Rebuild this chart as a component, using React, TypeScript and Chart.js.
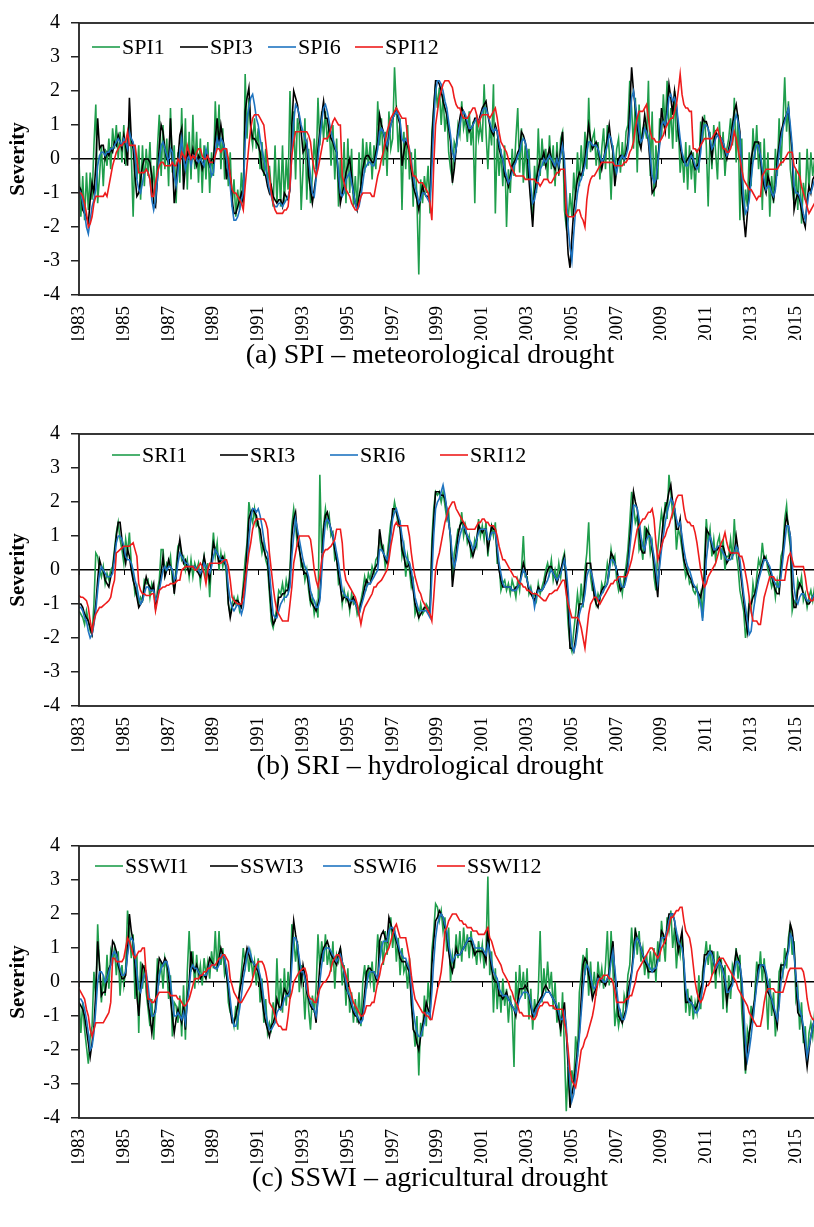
import React, { useEffect, useRef } from "react";
import { Chart, registerables } from "chart.js";

Chart.register(...registerables);

const FONT = "'Liberation Serif', 'Times New Roman', serif";
const START_YEAR = 1983;
const TICK_YEARS = [1983, 1985, 1987, 1989, 1991, 1993, 1995, 1997, 1999, 2001, 2003, 2005, 2007, 2009, 2011, 2013, 2015];
const Y_TICKS = [-4, -3, -2, -1, 0, 1, 2, 3, 4];
const COLORS = ["#1f9e4c", "#000000", "#1f74c0", "#ee1c1c"];

// ---------- (a) SPI: monthly values Jan 1983 - Dec 2015 ----------
const SPI_LABELS = ["SPI1", "SPI3", "SPI6", "SPI12"];
const SPI1 = [
  0.0,-1.7,-0.5,-1.8,-0.4,-1.5,-0.4,-1.2,0.4,1.6,-1.3,-0.5,
  0.4,-0.8,0.3,-0.2,0.6,-0.3,0.9,0.3,1.0,0.0,0.8,-0.1,
  1.0,-0.2,0.6,1.2,0.2,-1.7,0.4,-0.6,0.4,-1.2,0.4,-0.8,
  0.3,-0.5,0.5,-1.0,-0.2,-1.3,0.3,1.3,-0.5,1.0,-0.3,0.6,
  -0.8,1.5,-0.4,0.4,-1.3,0.2,-0.7,1.5,-0.5,1.2,-0.9,0.8,
  -0.6,1.3,-0.3,0.8,-0.7,0.6,-1.0,0.4,-0.6,0.5,-1.0,0.2,
  -0.5,1.7,0.3,1.6,-0.3,0.9,-0.6,0.3,-0.8,0.2,-1.4,-0.6,
  -1.7,-0.9,-1.5,-0.4,-1.2,2.5,0.6,1.8,0.8,0.4,1.2,0.3,
  0.9,-0.3,0.5,-0.5,0.3,-0.7,-0.2,-0.9,-1.4,0.4,-1.3,0.0,
  -1.4,0.4,-1.3,0.0,-0.9,2.0,0.2,1.4,-0.6,1.2,0.8,-1.5,
  -0.3,1.2,-1.2,0.3,-1.3,-0.5,0.6,-0.3,1.8,0.4,1.4,0.6,
  1.4,0.5,1.0,-0.2,1.0,-0.6,0.6,-1.4,0.0,-1.1,0.5,-1.3,
  0.6,-1.0,0.3,-1.4,-0.5,-1.5,0.2,-1.0,0.6,-0.4,0.5,-0.2,
  0.5,-0.6,0.4,-0.3,1.7,0.4,1.2,-0.2,0.8,-0.5,1.4,0.3,
  0.6,2.7,1.5,0.2,1.2,-1.5,0.8,-0.3,1.0,-0.6,0.2,-1.4,
  0.3,-1.2,-3.4,-0.6,-1.3,-0.5,-1.0,-0.2,-1.6,0.8,1.5,2.2,
  1.5,2.1,1.0,1.9,0.8,1.4,0.2,-0.3,-0.6,0.5,0.3,1.0,
  0.7,1.7,0.9,1.2,0.5,1.4,0.4,1.1,-1.3,1.3,0.6,1.0,
  0.5,2.2,0.8,-0.3,1.0,0.4,2.2,-1.6,0.6,-0.5,0.3,-0.8,
  0.4,-2.0,-0.3,-1.0,0.3,-0.5,0.6,1.5,-0.4,0.9,-0.7,0.4,
  -0.6,0.3,-1.2,-1.8,-0.2,-1.0,0.9,-0.5,0.6,-0.2,0.3,-0.6,
  0.7,-0.3,0.4,-0.8,0.5,-0.5,0.6,0.8,-1.5,-2.0,-1.8,-1.0,
  -1.7,-0.4,-1.2,0.2,-0.8,0.4,-0.5,0.8,-0.3,1.8,0.2,0.6,
  0.8,-0.2,0.5,-0.6,0.3,0.9,-0.3,1.0,0.2,-1.2,0.4,-0.5,
  0.3,0.6,-0.4,0.5,-0.2,0.8,1.0,2.3,1.5,0.3,1.8,-0.4,
  1.6,0.4,0.9,1.0,0.6,2.3,-0.5,1.4,-1.1,0.4,-0.6,1.2,
  0.6,1.9,0.9,2.3,0.6,1.5,0.3,2.0,0.5,1.0,-0.4,0.2,
  -0.7,0.5,-0.9,0.4,-0.6,0.2,-1.0,0.3,-0.4,1.1,0.5,1.3,
  0.4,-1.4,0.8,-0.3,1.0,0.2,-0.6,1.1,0.0,0.8,-0.5,0.3,
  0.6,1.2,0.4,1.8,-0.1,1.3,-1.8,0.6,-1.8,-0.9,-1.4,0.2,
  -0.8,0.9,0.0,1.0,-0.3,0.5,-1.5,0.6,-1.0,0.2,-1.7,-0.5,
  -1.3,0.3,-0.5,1.2,-0.2,1.0,2.4,0.8,1.7,-0.3,-0.8,-1.3,
  -0.3,-1.5,0.2,-1.9,-0.7,-1.2,0.3,-0.9,0.2,-0.5,0.0,-0.3,
];
const SPI3 = [
  -0.8,-0.9,-1.5,-1.6,-1.7,-1.9,-1.2,-0.7,-1.0,-0.2,1.2,0.3,
  0.4,0.4,0.0,0.2,0.1,0.3,0.2,0.5,0.4,0.7,0.5,0.3,
  0.7,0.4,-0.2,1.8,0.6,0.3,-0.5,-1.1,-1.0,-0.6,-0.2,0.0,
  0.0,0.0,-0.1,-0.5,-1.3,-1.4,-0.6,0.4,1.0,0.8,0.3,0.0,
  -0.1,1.2,0.0,-1.3,-0.8,0.0,0.7,0.9,-0.9,-0.2,0.2,0.0,
  0.0,0.3,0.0,-0.2,0.1,0.0,-0.3,-0.1,0.2,0.0,-0.2,0.0,
  0.0,0.6,1.2,0.5,1.0,0.6,0.3,-0.6,-0.1,-0.5,-1.2,-1.6,
  -1.6,-1.4,-1.2,-1.0,-1.3,1.4,1.8,2.1,1.0,0.6,0.6,0.5,
  0.4,0.2,-0.3,-0.4,-0.5,-0.8,-1.0,-0.8,-1.1,-1.2,-1.3,-1.2,
  -1.2,-1.4,-1.0,-1.1,-1.2,-0.9,1.0,2.0,1.8,1.6,1.2,0.8,
  0.2,0.3,0.5,-0.5,-0.9,-1.3,-0.9,-0.5,0.3,0.8,1.3,1.7,
  1.2,1.2,0.8,0.6,0.5,0.3,0.2,-0.6,-1.3,-1.0,-0.8,-0.4,
  -0.2,0.0,-0.5,-1.0,-1.3,-1.5,-1.1,-0.8,-0.3,0.0,0.1,0.1,
  0.0,-0.1,-0.1,0.2,0.5,1.3,1.0,0.8,0.5,0.3,0.7,1.0,
  1.2,1.3,1.5,1.2,1.0,-0.2,0.2,0.5,0.4,0.2,-0.3,-0.8,
  -1.0,-1.2,-1.5,-1.1,-0.8,-1.0,-1.1,-1.1,-1.2,0.5,1.5,2.3,
  2.3,2.2,2.0,1.7,1.5,1.3,0.9,0.5,-0.7,-0.3,0.3,0.8,
  1.2,1.5,1.4,1.2,1.0,0.8,0.9,1.0,1.2,1.2,1.1,1.3,
  1.5,1.6,1.7,1.3,1.0,0.8,0.7,1.0,0.8,0.3,0.1,0.0,
  -0.5,-0.6,-0.8,-0.5,-0.2,-0.1,0.0,0.2,0.3,0.8,0.7,0.5,
  0.2,-0.6,-1.3,-2.0,-1.0,-0.6,-0.3,0.0,0.0,0.2,-0.2,0.1,
  0.3,0.0,-0.2,-0.3,0.1,-0.3,0.3,0.8,-0.5,-1.8,-2.8,-3.2,
  -2.3,-1.5,-1.0,-0.6,-0.4,-0.5,-0.3,0.0,0.5,1.0,0.6,0.3,
  0.4,0.5,0.3,0.0,-0.3,0.0,0.3,0.6,1.0,0.5,0.2,-0.8,
  -0.3,0.0,0.1,0.1,0.0,0.2,0.5,1.5,2.7,2.0,1.5,1.0,
  0.5,0.3,0.8,1.3,0.9,0.5,-0.2,-1.0,-0.9,-0.8,0.0,0.5,
  1.5,1.1,0.8,1.5,2.2,1.8,1.3,2.0,1.6,0.8,0.4,0.0,
  -0.1,-0.1,0.0,0.1,0.2,-0.1,-0.3,-0.2,-0.1,0.5,1.2,1.1,
  1.1,0.9,0.5,0.0,0.5,0.8,0.7,0.7,0.6,0.5,0.2,0.0,
  0.3,0.6,1.0,1.4,1.6,1.2,0.8,-1.0,-1.7,-2.3,-1.6,-1.0,
  0.0,0.3,0.5,0.5,0.5,0.0,-0.5,-0.8,-1.0,-0.5,-0.7,-1.0,
  -1.2,-0.8,0.0,0.4,0.8,1.0,1.2,1.3,1.5,0.8,0.2,-1.5,
  -1.2,-1.0,-1.2,-1.5,-1.8,-2.0,-1.2,-0.8,-1.0,-0.6,-0.5,-0.4,
];
const SPI6 = [
  -0.9,-1.0,-1.3,-1.6,-2.0,-2.2,-1.8,-1.4,-1.2,-0.9,-0.2,0.1,
  0.2,0.2,0.1,0.2,0.2,0.3,0.3,0.4,0.5,0.6,0.5,0.4,
  0.6,0.5,0.3,0.8,0.6,0.5,0.1,-0.6,-0.9,-1.0,-0.7,-0.4,
  -0.3,-0.4,-0.6,-1.2,-1.5,-1.2,-0.6,0.0,0.4,0.5,0.3,0.1,
  -0.1,0.3,0.2,-0.5,-0.8,-0.4,0.2,0.6,0.0,-0.3,0.0,0.1,
  -0.2,0.1,0.1,0.0,-0.1,0.0,-0.1,-0.2,0.3,0.1,-0.1,-0.5,
  -0.4,0.2,0.6,0.4,0.6,0.5,0.3,0.0,-0.4,-0.8,-1.4,-1.8,
  -1.8,-1.7,-1.5,-1.2,-1.0,0.5,1.2,1.5,1.8,1.9,1.6,1.2,
  1.0,0.6,0.3,0.0,-0.3,-0.6,-0.9,-1.1,-1.3,-1.4,-1.4,-1.3,
  -1.3,-1.4,-1.3,-1.2,-1.1,-0.9,0.2,1.1,1.6,1.5,1.3,1.0,
  0.8,0.6,0.5,0.0,-0.5,-1.0,-1.1,-0.6,0.0,0.6,1.1,1.5,
  1.6,1.4,1.1,0.8,0.6,0.4,0.2,-0.4,-1.0,-1.1,-1.0,-0.6,
  -0.5,-0.4,-0.7,-1.0,-1.3,-1.5,-1.4,-1.1,-0.7,-0.3,-0.2,-0.1,
  -0.1,-0.2,-0.2,0.0,0.3,0.8,0.9,0.8,0.6,0.4,0.6,1.0,
  1.2,1.3,1.4,1.3,1.1,0.6,0.5,0.6,0.5,0.3,-0.1,-0.5,
  -0.8,-1.0,-1.3,-1.2,-1.0,-1.0,-1.1,-1.2,-1.3,-0.3,1.0,2.0,
  2.3,2.3,2.2,2.0,1.7,1.5,1.1,0.7,0.2,0.0,0.3,0.7,
  1.0,1.3,1.4,1.3,1.1,0.9,0.9,1.0,1.1,1.2,1.1,1.2,
  1.4,1.5,1.5,1.3,1.1,0.9,0.8,0.9,0.8,0.5,0.2,0.0,
  -0.3,-0.5,-0.7,-0.6,-0.4,-0.2,-0.1,0.1,0.2,0.5,0.6,0.5,
  0.2,-0.2,-0.8,-1.3,-1.2,-0.9,-0.6,-0.3,-0.2,0.0,-0.1,0.0,
  0.1,0.0,-0.1,-0.2,0.0,-0.2,0.1,0.4,0.0,-1.0,-2.0,-2.6,
  -3.0,-2.2,-1.5,-1.0,-0.7,-0.6,-0.4,-0.2,0.2,0.5,0.5,0.4,
  0.4,0.4,0.3,0.1,-0.1,0.0,0.2,0.4,0.7,0.6,0.3,-0.2,
  -0.4,-0.1,0.0,0.1,0.0,0.1,0.3,0.9,1.8,2.0,1.6,1.2,
  0.8,0.5,0.6,0.9,0.8,0.6,0.1,-0.5,-0.7,-0.6,-0.1,0.4,
  1.0,1.1,1.0,1.3,1.8,1.9,1.7,1.8,1.6,1.1,0.6,0.2,
  0.0,-0.2,-0.2,0.0,0.1,0.0,-0.2,-0.3,-0.2,0.2,0.8,1.0,
  1.0,0.9,0.6,0.3,0.4,0.6,0.7,0.6,0.6,0.5,0.3,0.1,
  0.2,0.4,0.8,1.1,1.3,1.1,0.7,-0.4,-1.2,-1.6,-1.5,-1.2,
  -0.6,-0.1,0.2,0.4,0.4,0.1,-0.3,-0.6,-0.9,-0.8,-0.8,-1.0,
  -1.1,-0.9,-0.3,0.2,0.6,0.9,1.1,1.3,1.5,1.0,0.4,-0.8,
  -1.0,-1.0,-1.1,-1.3,-1.6,-1.8,-1.4,-1.0,-1.0,-0.8,-0.6,-0.5,
];
const SPI12 = [
  -1.0,-1.0,-1.1,-1.3,-1.6,-2.0,-1.9,-1.7,-1.3,-1.1,-1.1,-1.1,
  -1.1,-1.1,-1.0,-1.1,-0.8,-0.5,-0.2,0.0,0.2,0.3,0.4,0.4,
  0.5,0.5,0.8,0.4,0.4,0.4,0.4,0.0,-0.4,-0.4,-0.4,-0.4,
  -0.3,-0.4,-0.6,-1.1,-1.1,-0.7,-0.4,-0.2,-0.1,-0.1,-0.2,-0.2,
  -0.2,-0.2,-0.1,-0.2,-0.2,0.0,-0.1,0.2,0.1,0.0,0.4,0.2,
  0.0,0.1,0.0,0.2,0.3,0.3,0.1,0.0,0.0,0.1,-0.1,-0.1,
  -0.1,0.1,0.3,0.3,0.2,0.3,0.3,0.3,0.0,-0.5,-0.9,-1.0,
  -1.0,-1.1,-1.2,-1.3,-1.5,-0.8,-0.2,0.4,0.9,1.2,1.3,1.3,
  1.3,1.2,1.1,1.0,0.5,0.0,-0.5,-1.0,-1.3,-1.5,-1.6,-1.6,
  -1.6,-1.6,-1.5,-1.5,-1.4,-0.8,0.1,0.5,0.8,0.8,0.8,0.8,
  0.8,0.8,0.8,0.7,0.5,0.0,-0.3,-0.5,-0.3,0.0,0.3,0.6,
  0.6,0.6,0.7,0.9,1.1,1.2,1.1,1.0,1.0,-0.5,-0.7,-0.9,
  -1.0,-1.1,-1.3,-1.4,-1.5,-1.5,-1.3,-1.1,-1.0,-1.0,-1.0,-1.0,
  -1.0,-1.1,-1.1,-0.8,-0.5,-0.3,0.0,0.2,0.5,0.8,1.0,1.2,
  1.3,1.4,1.5,1.4,1.3,1.2,1.2,1.2,0.6,0.2,-0.2,-0.5,
  -0.5,-0.6,-0.7,-0.7,-0.7,-0.8,-0.9,-1.0,-1.3,-1.8,-0.2,1.0,
  1.4,1.8,2.0,2.2,2.3,2.3,2.3,2.2,2.1,1.8,1.6,1.5,
  1.5,1.3,1.2,1.2,1.2,1.3,1.4,1.5,1.5,1.3,1.0,1.2,
  1.3,1.3,1.3,1.3,1.2,1.3,1.4,1.5,1.2,0.8,0.5,0.4,
  0.3,0.2,0.0,-0.2,-0.3,-0.4,-0.5,-0.5,-0.5,-0.5,-0.5,-0.6,
  -0.6,-0.6,-0.6,-0.6,-0.6,-0.7,-0.7,-0.8,-0.7,-0.6,-0.6,-0.6,
  -0.7,-0.7,-0.6,-0.5,-0.4,-0.4,-0.3,-0.3,-0.3,-1.6,-1.7,-1.7,
  -1.7,-1.7,-1.6,-1.5,-1.5,-1.7,-1.8,-2.0,-1.2,-0.8,-0.6,-0.5,
  -0.5,-0.4,-0.3,-0.2,-0.1,-0.1,-0.1,-0.1,-0.1,-0.1,-0.1,-0.2,
  -0.2,-0.2,-0.2,-0.2,-0.1,-0.1,0.0,0.2,0.3,0.5,0.9,1.2,
  1.4,1.4,1.4,1.5,1.6,1.2,0.8,0.6,0.6,0.5,0.5,0.5,
  0.6,0.7,0.9,1.0,1.1,1.2,1.2,1.4,1.6,2.0,2.5,1.9,
  1.6,1.5,1.5,1.4,1.4,0.3,0.3,0.2,0.3,0.4,0.5,0.6,
  0.6,0.6,0.6,0.6,0.7,0.8,0.9,0.7,0.5,0.3,0.3,0.2,
  0.2,0.3,0.5,0.8,0.6,0.3,0.0,-0.3,-0.6,-0.7,-0.8,-0.9,
  -0.9,-1.0,-1.1,-1.2,-1.1,-1.1,-0.5,-0.4,-0.3,-0.3,-0.3,-0.3,
  -0.3,-0.3,-0.3,-0.2,-0.1,-0.1,0.0,0.1,0.2,0.2,0.2,-0.2,
  -0.3,-0.4,-0.5,-0.8,-1.0,-1.2,-1.4,-1.6,-1.5,-1.4,-1.3,-1.2,
];

// ---------- (b) SRI ----------
const SRI_LABELS = ["SRI1", "SRI3", "SRI6", "SRI12"];
const SRI1 = [
  -1.2,-1.3,-1.4,-1.6,-1.2,-1.5,-1.8,-1.9,-1.0,0.5,0.4,0.0,
  -0.2,0.1,-0.4,-0.1,-0.3,0.0,0.1,0.6,1.1,1.4,0.9,0.6,
  0.2,0.9,0.5,1.1,0.2,-0.2,-0.7,-0.5,-1.0,-0.8,-0.9,-0.3,
  -0.4,-0.3,-0.8,-0.4,-0.6,-1.1,-0.6,-0.3,0.6,0.6,-0.1,0.2,
  0.1,0.4,-0.3,-0.6,0.1,0.7,0.8,0.3,0.4,0.0,0.3,-0.2,
  0.3,-0.2,0.2,0.0,0.2,-0.4,0.1,0.4,-0.2,0.2,-0.8,0.3,
  1.1,0.4,0.8,0.0,0.5,0.1,0.4,-0.2,-1.0,-1.3,-1.0,-0.8,
  -1.0,-0.8,-1.2,-1.0,-0.4,0.3,0.8,2.0,1.6,1.4,1.8,1.3,
  1.4,0.9,0.5,0.8,0.3,0.1,-0.7,-1.5,-1.7,-1.4,-1.1,-0.6,
  -0.7,-0.4,-0.8,-0.3,-0.6,0.0,1.3,1.8,1.3,0.7,0.7,0.1,
  0.2,-0.3,0.0,-0.6,-1.0,-0.8,-1.3,-1.0,-1.4,2.8,0.5,1.3,
  1.8,1.3,1.6,1.0,1.1,0.3,0.4,-0.4,-0.3,-1.0,-0.6,-0.9,
  -0.7,-1.2,-0.7,-1.0,-0.9,-1.3,-1.1,-0.9,-0.6,-0.2,-0.5,-0.1,
  -0.3,0.1,-0.1,0.3,0.4,1.0,0.6,0.7,0.1,0.4,0.9,1.4,
  1.6,2.0,1.7,1.3,1.4,0.4,0.7,-0.2,0.4,0.0,-0.5,-0.3,
  -1.3,-1.1,-1.4,-1.0,-1.3,-1.2,-1.0,-1.1,-1.2,0.9,1.8,2.3,
  2.2,2.3,2.0,2.3,1.9,1.5,1.7,0.8,-0.3,0.5,0.8,1.2,
  1.2,1.7,1.0,1.3,0.8,1.0,0.4,0.5,0.9,0.7,1.5,1.0,
  1.3,0.9,1.4,0.4,1.0,1.3,1.0,1.4,0.2,0.2,-0.6,-0.4,
  -0.3,-0.6,-0.4,-0.7,-0.3,-0.5,-0.8,-0.3,-0.6,0.0,1.0,-0.2,
  -0.2,-0.7,-0.5,-0.8,-0.7,-0.9,-0.4,-0.7,-0.5,-0.3,0.0,0.2,
  -0.1,0.3,-0.3,0.0,-0.3,0.2,-0.2,0.3,0.5,-0.6,-1.6,-2.2,
  -2.4,-1.8,-1.3,-0.7,-1.2,-0.4,-1.1,0.0,0.5,1.4,-0.2,-0.6,
  -0.6,-1.0,-0.7,-0.9,-0.4,-0.6,-0.3,0.2,-0.1,0.6,0.2,0.4,
  -0.3,-0.6,-0.3,-0.7,-0.2,0.1,0.6,1.4,2.3,1.9,1.4,1.6,
  0.6,0.8,0.3,1.3,0.9,1.2,0.5,0.8,-0.2,-0.6,0.6,1.2,
  1.7,1.3,2.0,1.5,2.8,2.3,1.6,1.8,0.6,1.2,1.0,0.6,
  0.2,-0.2,0.0,-0.4,-0.3,-0.6,-0.7,-0.5,-1.0,-0.7,-1.4,0.3,
  1.5,0.8,1.2,0.4,0.9,0.3,0.8,1.0,0.3,0.9,0.0,0.4,
  0.4,0.9,0.3,1.5,0.5,0.1,-0.6,-0.9,-1.2,-2.0,-1.5,-0.9,
  -1.2,-0.4,-0.8,-0.2,0.3,0.1,0.8,0.3,0.4,0.0,-0.2,-0.5,
  -0.3,-0.8,-0.3,-0.6,0.4,0.6,1.5,1.9,1.1,0.7,-1.2,-0.9,
  -1.0,-0.3,-0.5,-0.2,-0.9,-0.7,-1.1,-0.8,-0.6,-0.9,-0.5,-0.7,
];
const SRI3 = [
  -1.0,-1.0,-1.1,-1.3,-1.4,-1.5,-1.7,-1.9,-1.5,-1.0,-0.3,0.3,
  0.1,0.0,-0.3,-0.4,-0.5,-0.2,0.0,0.5,1.0,1.4,1.4,0.9,
  0.5,0.2,0.6,0.4,0.0,-0.3,-0.5,-0.8,-1.1,-1.0,-0.9,-0.5,
  -0.2,-0.4,-0.5,-0.6,-0.4,-1.1,-0.8,-0.5,-0.1,0.4,-0.2,0.0,
  0.3,0.1,0.0,-0.7,-0.2,0.5,0.9,0.5,0.2,0.3,0.1,-0.1,
  0.1,0.1,0.1,0.0,-0.1,-0.2,0.0,0.4,0.1,0.0,-0.3,0.3,
  0.8,0.6,0.5,0.2,0.3,0.4,0.2,0.1,-1.0,-1.4,-1.1,-1.0,
  -0.9,-0.9,-1.0,-1.1,-0.6,-0.2,0.6,1.5,1.7,1.8,1.7,1.6,
  1.3,1.2,0.8,0.6,0.4,0.3,-0.5,-1.2,-1.6,-1.5,-1.3,-0.8,
  -0.8,-0.7,-0.7,-0.6,-0.6,-0.2,1.0,1.5,1.7,1.0,0.6,0.3,
  0.0,-0.1,-0.1,-0.4,-0.9,-1.0,-1.1,-1.2,-1.0,-0.8,0.2,1.2,
  1.6,1.7,1.4,1.2,1.0,0.6,0.3,-0.1,-0.5,-0.9,-0.8,-0.8,
  -0.9,-1.1,-0.9,-0.8,-1.0,-1.1,-1.3,-1.0,-0.8,-0.5,-0.3,-0.4,
  -0.4,-0.2,0.0,0.1,0.2,1.2,0.8,0.5,0.3,0.2,0.6,1.1,
  1.8,1.8,1.7,1.5,1.2,0.6,0.4,0.1,0.1,0.2,-0.2,-0.6,
  -1.0,-1.2,-1.4,-1.3,-1.2,-1.1,-1.1,-1.2,-1.3,0.5,1.5,2.3,
  2.3,2.3,2.2,2.2,2.1,1.8,1.4,1.0,-0.5,0.0,0.5,1.0,
  1.3,1.4,1.4,1.1,1.0,0.8,0.6,0.4,0.6,0.9,1.3,1.2,
  1.1,1.2,1.2,0.6,0.9,1.3,1.2,1.2,0.5,0.0,-0.3,-0.5,
  -0.5,-0.5,-0.5,-0.5,-0.6,-0.6,-0.5,-0.5,-0.4,-0.1,0.2,0.0,
  -0.3,-0.6,-0.7,-0.8,-0.9,-0.7,-0.5,-0.6,-0.6,-0.5,-0.2,0.0,
  0.1,0.1,-0.1,-0.2,-0.4,-0.2,0.0,0.2,0.4,-0.3,-1.0,-2.3,
  -2.3,-2.4,-2.0,-1.5,-1.0,-1.0,-1.0,-0.4,0.2,0.2,0.2,-0.3,
  -0.8,-1.0,-1.1,-0.8,-0.6,-0.5,-0.5,-0.4,0.1,0.5,0.4,0.2,
  0.0,-0.3,-0.6,-0.5,-0.5,-0.1,0.2,0.9,1.6,2.3,2.0,1.8,
  1.2,0.6,0.5,0.5,1.2,1.1,1.0,0.6,0.2,-0.3,-0.8,0.3,
  0.9,1.5,1.8,2.0,2.3,2.5,2.0,1.8,1.2,1.2,1.5,0.8,
  0.3,0.1,-0.1,-0.2,-0.3,-0.5,-0.5,-0.6,-0.7,-0.8,-0.5,-0.2,
  1.2,1.1,1.0,0.7,0.5,0.6,0.6,0.7,0.7,0.7,0.5,0.2,
  0.3,0.5,0.5,0.5,1.0,0.6,0.1,-0.4,-0.9,-1.4,-1.8,-1.0,
  -1.0,-0.8,-0.7,-0.5,-0.2,0.0,0.2,0.4,0.3,0.2,0.0,-0.2,
  -0.4,-0.6,-0.7,-0.7,0.0,0.5,1.2,1.6,1.3,1.0,-0.6,-1.1,
  -1.1,-0.6,-0.4,-0.5,-0.7,-0.8,-1.0,-1.0,-0.9,-0.8,-0.7,-0.6,
];
const SRI6 = [
  -1.1,-1.1,-1.2,-1.4,-1.5,-1.8,-2.0,-1.9,-1.6,-1.2,-0.6,-0.1,
  0.1,0.0,-0.1,-0.2,-0.2,-0.2,-0.1,0.3,0.8,1.0,1.0,0.9,
  0.7,0.4,0.3,0.3,0.2,0.0,-0.3,-0.5,-0.8,-1.0,-0.9,-0.7,
  -0.5,-0.5,-0.6,-0.6,-0.6,-0.9,-0.8,-0.6,-0.3,0.0,0.1,0.0,
  0.1,0.1,0.0,-0.3,-0.2,0.2,0.5,0.4,0.3,0.2,0.2,0.1,
  0.1,0.1,0.1,0.0,0.0,-0.1,0.0,0.2,0.1,0.0,-0.1,0.1,
  0.4,0.6,0.5,0.4,0.3,0.3,0.3,0.1,-0.5,-0.9,-1.1,-1.2,
  -1.1,-1.0,-1.1,-1.3,-1.1,-0.6,0.0,0.9,1.5,1.8,1.8,1.7,
  1.8,1.6,1.3,0.9,0.6,0.5,0.0,-0.7,-1.3,-1.4,-1.4,-1.2,
  -1.0,-0.9,-0.8,-0.8,-0.7,-0.5,0.4,1.0,1.5,1.2,0.9,0.6,
  0.3,0.1,0.0,-0.2,-0.6,-0.8,-0.9,-1.1,-1.1,-0.9,-0.1,0.8,
  1.4,1.5,1.4,1.2,1.0,0.8,0.5,0.2,-0.2,-0.6,-0.7,-0.8,
  -0.8,-0.9,-0.9,-0.9,-1.0,-1.1,-1.3,-1.1,-0.9,-0.7,-0.5,-0.4,
  -0.4,-0.3,-0.2,-0.1,0.0,0.6,0.6,0.5,0.4,0.3,0.5,1.0,
  1.5,1.7,1.8,1.6,1.4,1.0,0.7,0.4,0.3,0.2,0.0,-0.4,
  -0.8,-1.0,-1.2,-1.2,-1.2,-1.2,-1.2,-1.3,-1.4,-0.2,1.0,1.8,
  2.0,2.1,2.3,2.5,2.2,1.8,1.4,1.0,0.4,0.1,0.3,0.7,
  1.0,1.2,1.3,1.2,1.0,0.9,0.8,0.6,0.7,0.9,1.1,1.2,
  1.2,1.2,1.2,0.9,0.9,1.1,1.1,1.1,0.7,0.2,-0.1,-0.4,
  -0.5,-0.5,-0.5,-0.5,-0.6,-0.6,-0.6,-0.5,-0.4,-0.2,0.0,-0.1,
  -0.3,-0.5,-0.6,-0.7,-1.1,-0.8,-0.6,-0.6,-0.6,-0.5,-0.4,-0.3,
  -0.1,0.0,-0.1,-0.2,-0.3,-0.2,-0.1,0.1,0.3,0.0,-0.6,-1.5,
  -2.2,-2.4,-2.2,-1.8,-1.3,-1.1,-1.0,-0.7,-0.2,0.0,0.0,-0.2,
  -0.5,-0.8,-0.9,-0.8,-0.7,-0.6,-0.5,-0.4,0.0,0.3,0.3,0.2,
  0.0,-0.2,-0.4,-0.5,-0.5,-0.3,0.0,0.6,1.2,1.9,1.9,1.8,
  1.5,1.0,0.7,0.6,0.9,1.0,1.0,0.7,0.4,0.0,-0.4,0.1,
  0.6,1.0,1.4,1.7,1.9,2.1,2.0,1.8,1.5,1.3,1.4,1.0,
  0.6,0.3,0.1,0.0,-0.2,-0.4,-0.5,-0.6,-0.8,-1.0,-1.5,-0.8,
  0.3,0.8,1.0,0.8,0.6,0.6,0.7,0.7,0.6,0.5,0.4,0.3,
  0.3,0.3,0.4,0.5,0.7,0.6,0.3,-0.2,-0.7,-1.1,-1.5,-1.9,
  -1.8,-1.3,-0.9,-0.6,-0.3,-0.1,0.1,0.3,0.3,0.2,0.1,-0.1,
  -0.3,-0.4,-0.5,-0.5,-0.2,0.3,0.8,1.3,1.3,1.0,0.2,-0.5,
  -0.9,-1.0,-0.8,-0.7,-0.7,-0.8,-0.9,-0.9,-0.9,-0.8,-0.7,-0.6,
];
const SRI12 = [
  -0.75,-0.8,-0.8,-0.85,-0.9,-1.1,-1.5,-1.8,-1.5,-1.3,-1.2,-1.1,
  -1.1,-1.05,-1.0,-0.95,-0.9,-0.8,-0.5,-0.3,0.5,0.55,0.6,0.65,
  0.7,0.7,0.7,0.7,0.75,0.8,0.6,0.4,-0.4,-0.6,-0.7,-0.7,
  -0.75,-0.75,-0.75,-0.7,-0.7,-1.2,-0.9,-0.6,-0.55,-0.5,-0.5,-0.45,
  -0.45,-0.4,-0.4,-0.4,-0.35,-0.3,-0.3,0.0,0.05,0.1,0.1,0.1,
  0.1,0.1,0.0,0.0,0.1,0.2,0.1,-0.1,-0.4,0.0,0.2,0.2,
  0.2,0.2,0.2,0.2,0.2,0.25,0.3,0.3,0.1,-0.3,-0.8,-0.9,
  -0.95,-1.0,-1.0,-1.0,-0.8,-0.3,0.1,0.5,0.8,1.2,1.4,1.5,
  1.5,1.5,1.5,1.5,1.4,1.2,0.5,0.0,-0.5,-0.9,-1.2,-1.3,
  -1.4,-1.5,-1.5,-1.5,-1.5,-1.0,-0.5,0.2,0.5,0.8,1.0,1.0,
  1.0,1.0,1.0,1.0,0.9,0.5,0.0,-0.3,-0.5,-0.2,0.3,0.5,
  0.6,0.6,0.65,0.7,0.8,0.9,1.2,1.2,1.2,0.8,0.0,-0.3,
  -0.4,-0.5,-0.6,-0.7,-0.8,-1.0,-1.3,-1.6,-1.3,-1.1,-1.0,-0.9,
  -0.8,-0.7,-0.5,-0.5,-0.4,-0.35,-0.3,-0.2,-0.1,0.0,0.3,0.7,
  1.0,1.3,1.4,1.3,1.3,1.3,1.3,1.3,1.3,1.0,0.5,0.1,
  -0.2,-0.4,-0.6,-0.7,-0.9,-1.0,-1.1,-1.2,-1.3,-1.5,-0.8,0.0,
  0.3,0.5,0.8,1.1,1.4,1.6,1.8,1.9,2.0,2.0,1.8,1.7,
  1.6,1.5,1.4,1.3,1.2,1.2,1.2,1.2,1.2,1.3,1.4,1.4,
  1.5,1.5,1.4,1.4,1.3,1.3,1.3,1.2,1.0,0.7,0.5,0.3,
  0.3,0.2,0.1,0.0,-0.1,-0.2,-0.2,-0.3,-0.4,-0.4,-0.5,-0.5,
  -0.6,-0.6,-0.65,-0.7,-0.7,-0.7,-0.75,-0.8,-0.85,-0.9,-0.9,-0.8,
  -0.7,-0.7,-0.65,-0.6,-0.6,-0.5,-0.4,-0.3,-0.3,-0.7,-1.0,-1.2,
  -1.4,-1.4,-1.4,-1.4,-1.5,-1.7,-2.0,-2.3,-1.8,-1.3,-1.0,-0.9,
  -0.8,-0.8,-0.9,-1.0,-0.9,-0.8,-0.7,-0.6,-0.5,-0.4,-0.4,-0.3,
  -0.3,-0.2,-0.2,-0.2,-0.2,-0.2,-0.1,0.1,0.3,0.6,0.9,1.2,
  1.3,1.4,1.5,1.5,1.6,1.7,1.7,1.8,1.5,0.8,0.3,0.5,
  0.7,0.9,1.0,1.2,1.3,1.5,1.7,1.9,2.1,2.2,2.2,2.2,
  1.8,1.5,1.4,1.4,1.3,1.3,1.1,0.8,0.4,0.0,-0.3,-0.5,
  -0.4,-0.2,-0.1,0.0,0.1,0.2,0.4,0.6,0.8,0.9,1.1,0.8,
  0.6,0.5,0.5,0.5,0.5,0.5,0.4,0.4,0.2,-0.1,-0.4,-0.8,
  -1.2,-1.5,-1.5,-1.5,-1.6,-1.6,-1.2,-0.8,-0.6,-0.4,-0.2,-0.2,
  -0.2,-0.3,-0.3,-0.3,-0.3,-0.3,-0.3,0.1,0.4,0.5,0.3,0.1,
  0.1,0.1,0.1,0.1,0.1,-0.2,-0.6,-0.8,-0.9,-0.9,-0.8,-0.8,
];

// ---------- (c) SSWI ----------
const SSWI_LABELS = ["SSWI1", "SSWI3", "SSWI6", "SSWI12"];
const SSWI1 = [
  -0.5,-1.5,-0.6,-1.4,-1.9,-2.4,-1.6,-1.3,0.3,-0.5,1.7,0.4,
  -0.6,0.2,-0.4,0.8,-0.2,0.9,0.6,1.0,0.2,0.9,-0.4,0.5,
  -0.1,0.4,2.1,1.5,0.7,1.4,-0.5,0.8,-1.5,0.6,-0.2,0.5,
  -0.3,-0.8,-1.3,-0.5,-1.7,-0.6,0.7,0.1,0.6,-0.2,0.7,0.4,
  -0.5,0.2,-1.6,-0.6,-0.7,-1.2,-0.4,-1.6,-0.1,-1.7,0.3,1.5,
  0.3,0.9,-0.2,0.8,0.1,0.5,-0.1,0.7,0.2,0.6,0.1,0.9,
  0.4,1.5,0.3,1.5,0.5,1.0,0.2,0.4,-0.6,-0.9,-1.0,-1.3,
  -0.7,-1.4,-0.2,0.3,1.0,0.5,1.0,0.3,0.8,0.2,0.6,-0.1,
  0.7,-0.6,0.1,-1.2,-0.5,-1.5,-1.2,-1.4,-0.6,-1.2,0.7,-0.8,
  0.1,-0.9,0.4,-0.7,0.3,-0.5,1.7,1.3,0.6,1.2,-0.3,0.5,
  0.0,-1.1,0.1,-0.8,-1.4,-0.4,-0.9,-0.2,1.4,0.4,1.2,0.6,
  1.4,0.5,0.9,0.3,1.2,-0.2,0.8,0.6,1.0,-0.1,0.5,-0.7,
  0.4,-0.9,-0.3,-1.2,-0.5,-1.2,-0.3,-1.3,0.0,0.5,-0.2,0.5,
  0.0,0.6,-0.3,0.4,1.4,0.7,1.2,0.5,1.5,0.8,1.3,1.9,
  1.0,1.6,0.6,1.3,0.2,1.0,0.3,0.5,-0.2,0.7,-0.7,-1.2,
  -1.9,-1.0,-2.75,-1.2,-1.6,-0.4,-1.3,0.0,-0.8,0.9,1.5,2.3,
  2.2,1.8,2.1,1.5,1.9,0.9,1.6,0.0,0.8,0.4,1.4,0.7,
  1.5,0.6,1.6,0.9,1.4,0.7,1.5,0.8,1.0,0.5,1.2,0.7,
  1.1,0.4,0.9,3.1,0.2,0.9,-0.9,0.4,-0.8,0.0,-0.9,0.1,
  -0.7,-0.2,-1.2,-0.4,-0.9,-2.5,0.3,-0.7,0.5,-0.4,0.3,-0.5,
  0.4,-1.1,-0.2,-1.4,-0.5,-1.0,-0.3,1.5,-0.6,0.4,-0.3,0.6,
  -0.2,0.3,-0.8,0.0,-1.2,-0.6,-1.6,-0.3,-2.0,-3.8,-2.5,-3.5,
  -2.6,-3.0,-1.6,-2.2,-0.3,0.2,0.8,0.2,1.0,-0.4,0.6,-0.4,
  0.3,-0.4,0.6,0.0,0.4,-0.2,0.5,1.5,-0.1,1.5,0.4,-1.3,
  -0.8,-1.3,-0.9,-1.2,-0.4,-0.7,0.2,0.5,1.6,0.7,1.6,0.8,
  1.5,0.6,1.0,0.2,0.8,0.1,0.9,0.3,1.0,0.0,1.2,0.6,
  1.8,1.2,0.6,1.9,1.5,2.1,1.0,1.6,0.4,1.2,0.8,1.4,
  0.3,-0.9,-0.2,-1.0,-0.4,-1.1,-0.6,-0.9,0.2,-0.8,0.3,0.7,
  1.2,0.5,1.1,0.2,0.9,-0.2,0.9,0.3,0.7,-0.8,0.5,-0.9,
  0.2,-0.5,0.5,0.3,1.0,0.1,0.8,-0.9,-1.7,-2.7,-1.4,-1.7,
  -0.7,-1.2,-0.3,0.6,0.2,0.9,0.0,0.7,-0.2,-1.4,0.1,-1.0,
  -0.3,-1.6,-0.9,0.3,0.5,0.2,1.0,0.4,1.3,1.7,0.8,1.2,
  -0.5,-0.2,-1.4,-0.6,-1.8,-1.3,-2.4,-1.5,-1.2,-1.6,-0.9,-1.2,
];
const SSWI3 = [
  -0.6,-0.7,-0.8,-1.0,-1.4,-1.8,-2.2,-1.8,-1.3,-0.3,1.2,0.5,
  -0.4,-0.3,-0.3,0.1,0.4,0.5,1.2,1.1,0.9,0.5,0.3,0.1,
  0.1,0.2,0.9,2.0,1.5,1.2,0.5,-0.4,-1.0,-0.2,0.5,0.4,
  0.2,-0.6,-1.0,-1.5,-1.0,-0.8,0.2,0.7,0.6,0.5,0.7,0.6,
  0.2,-0.5,-1.0,-1.5,-1.1,-0.8,-1.0,-1.2,-0.7,-1.4,-0.5,0.0,
  0.9,0.4,0.3,0.5,0.3,0.1,0.2,0.2,0.1,0.4,0.7,0.6,
  0.5,0.4,0.4,0.7,1.0,0.8,0.7,0.2,-0.2,-0.8,-1.2,-1.2,
  -1.0,-0.7,-0.3,0.0,0.4,0.7,1.0,0.8,0.6,0.6,0.5,0.4,
  0.3,0.0,-0.5,-0.9,-1.2,-1.4,-1.6,-1.3,-1.2,-1.0,-0.5,-0.7,
  -0.8,-0.5,-0.2,-0.3,-0.4,-0.2,1.0,1.8,1.4,1.1,0.5,0.0,
  0.5,0.2,-0.3,-0.5,-0.7,-0.8,-0.8,-1.2,-0.3,0.5,0.8,1.0,
  1.1,1.2,1.0,0.8,0.7,0.6,0.5,0.8,1.0,0.6,0.3,-0.2,
  -0.3,-0.5,-0.7,-0.9,-1.0,-1.0,-1.2,-1.1,-0.9,-0.3,0.3,0.4,
  0.4,0.3,0.3,0.1,0.0,1.2,1.4,1.5,1.3,1.2,1.9,1.7,
  1.5,1.4,1.2,1.0,0.7,0.6,0.6,0.6,0.4,0.3,-0.5,-1.4,
  -1.5,-1.8,-2.0,-1.6,-1.3,-1.0,-0.6,-0.8,-1.0,0.5,1.2,1.8,
  1.9,2.1,2.0,1.9,1.6,1.4,0.9,0.5,0.3,0.6,1.0,0.8,
  0.8,0.9,1.0,1.1,1.2,1.2,1.2,1.0,0.8,0.9,0.9,0.9,
  0.9,0.8,0.6,1.6,0.8,0.4,0.1,0.0,0.0,-0.4,-0.4,-0.5,
  -0.4,-0.3,-0.5,-0.6,-0.7,-0.8,-1.0,-0.6,-0.2,-0.2,-0.2,-0.1,
  -0.2,-0.4,-0.7,-1.0,-0.8,-0.7,-0.6,-0.5,-0.4,-0.2,-0.1,-0.2,
  -0.3,-0.4,-0.5,-0.6,-0.8,-1.1,-1.4,-1.0,-0.6,-1.5,-2.5,-3.7,
  -3.3,-3.0,-2.5,-2.0,-1.5,-0.5,0.5,0.7,0.6,0.2,-0.1,-0.5,
  -0.3,-0.2,0.2,0.1,0.0,0.0,-0.1,0.1,0.3,0.8,1.2,0.2,
  -0.4,-1.0,-1.1,-1.2,-1.0,-0.8,-0.3,0.0,0.3,0.9,1.5,1.3,
  1.2,1.0,0.8,0.6,0.5,0.3,0.3,0.3,0.3,0.4,0.7,1.0,
  1.5,1.4,1.2,1.6,2.0,2.0,2.0,1.8,1.3,0.9,1.2,1.5,
  0.5,-0.6,-0.6,-0.5,-0.6,-0.7,-0.8,-0.7,-0.5,-0.2,0.0,0.8,
  0.8,0.9,0.9,0.9,0.6,0.3,0.5,0.7,0.5,0.4,-0.1,-0.6,
  -0.2,-0.1,0.0,0.5,0.9,0.7,0.5,0.0,-1.2,-2.6,-2.0,-1.5,
  -1.2,-0.8,-0.5,0.0,0.5,0.5,0.5,0.4,0.2,-0.3,-0.4,-0.5,
  -0.8,-1.0,-1.3,-0.5,0.5,0.5,0.5,0.8,1.0,1.7,1.5,1.0,
  0.1,-0.9,-1.0,-1.0,-1.5,-2.0,-2.5,-2.0,-1.6,-1.3,-1.1,-1.0,
];
const SSWI6 = [
  -0.5,-0.5,-0.6,-0.8,-1.1,-1.5,-2.0,-1.9,-1.5,-0.8,0.0,0.3,
  0.3,0.2,0.0,0.1,0.3,0.5,0.8,0.9,0.8,0.6,0.4,0.2,
  0.2,0.3,0.8,1.2,1.3,1.2,0.8,0.3,-0.2,-0.3,0.0,0.2,
  0.3,-0.1,-0.6,-1.0,-1.0,-0.9,-0.4,0.2,0.4,0.5,0.6,0.6,
  0.4,0.0,-0.5,-1.0,-1.0,-0.9,-1.0,-1.1,-0.9,-1.2,-0.6,-0.2,
  0.4,0.5,0.4,0.4,0.3,0.2,0.2,0.2,0.2,0.3,0.5,0.5,
  0.5,0.4,0.4,0.5,0.8,0.8,0.7,0.4,0.0,-0.5,-1.0,-1.3,
  -1.3,-1.1,-0.8,-0.4,0.1,0.4,0.8,1.0,0.8,0.6,0.5,0.5,
  0.4,0.2,-0.1,-0.5,-0.9,-1.2,-1.4,-1.4,-1.3,-1.2,-0.9,-0.8,
  -0.8,-0.7,-0.5,-0.4,-0.4,-0.3,0.5,1.3,1.3,1.1,0.7,0.3,
  0.3,0.1,-0.2,-0.4,-0.6,-0.7,-0.8,-1.0,-0.6,0.0,0.5,0.9,
  1.0,1.0,1.0,0.9,0.8,0.7,0.6,0.7,0.8,0.6,0.3,0.0,
  -0.3,-0.4,-0.6,-0.8,-0.9,-1.0,-1.1,-1.2,-1.1,-0.6,-0.1,0.2,
  0.3,0.3,0.3,0.2,0.1,0.6,1.0,1.2,1.2,1.2,1.5,1.6,
  1.6,1.5,1.3,1.1,0.9,0.8,0.7,0.7,0.5,0.4,-0.1,-0.8,
  -1.2,-1.5,-1.6,-1.6,-1.4,-1.2,-0.9,-0.9,-1.0,-0.3,0.6,1.3,
  1.7,1.9,2.0,1.9,1.7,1.5,1.1,0.8,0.6,0.7,0.8,0.8,
  0.8,0.9,1.0,1.1,1.2,1.3,1.3,1.2,1.0,1.0,1.0,1.0,
  1.0,0.9,0.8,1.1,0.9,0.6,0.3,0.2,0.1,-0.2,-0.3,-0.4,
  -0.4,-0.4,-0.5,-0.6,-0.7,-0.8,-0.9,-0.7,-0.5,-0.4,-0.3,-0.3,
  -0.3,-0.4,-0.6,-0.9,-1.0,-0.8,-0.7,-0.6,-0.5,-0.4,-0.3,-0.3,
  -0.3,-0.4,-0.5,-0.6,-0.7,-0.9,-1.1,-1.1,-0.9,-1.3,-2.2,-3.0,
  -3.5,-3.3,-2.8,-2.2,-1.6,-0.9,-0.2,0.3,0.5,0.4,0.2,-0.1,
  -0.2,-0.1,0.1,0.1,0.1,0.0,0.0,0.1,0.2,0.6,0.9,0.4,
  -0.2,-0.7,-0.9,-1.1,-1.1,-0.9,-0.6,-0.2,0.2,0.7,1.2,1.3,
  1.2,1.0,0.8,0.7,0.6,0.5,0.4,0.3,0.4,0.4,0.6,0.9,
  1.3,1.3,1.3,1.5,1.8,2.0,2.0,1.8,1.5,1.2,1.1,1.0,
  0.6,-0.2,-0.5,-0.6,-0.6,-0.7,-0.9,-0.9,-0.8,-0.5,-0.2,0.4,
  0.7,0.8,0.9,0.8,0.6,0.4,0.5,0.6,0.5,0.3,0.1,-0.3,
  -0.3,-0.2,-0.1,0.3,0.6,0.6,0.5,0.1,-0.7,-1.8,-2.3,-2.0,
  -1.6,-1.1,-0.6,-0.1,0.3,0.5,0.5,0.5,0.3,0.0,-0.3,-0.5,
  -0.7,-0.9,-1.1,-0.7,0.0,0.3,0.5,0.7,0.9,1.4,1.3,0.8,
  0.2,-0.4,-0.8,-1.0,-1.3,-1.7,-2.2,-1.9,-1.6,-1.3,-1.1,-1.0,
];
const SSWI12 = [
  -0.2,-0.3,-0.4,-0.5,-0.8,-1.0,-1.4,-1.6,-1.4,-1.2,-1.2,-1.2,
  -1.2,-1.2,-1.1,-1.0,-0.9,-0.6,0.7,0.7,0.6,0.6,0.6,0.6,
  0.7,1.0,1.3,1.2,1.0,0.8,0.7,0.8,0.9,0.9,1.0,1.0,
  0.2,-0.5,-0.5,-0.6,-0.6,-0.5,-0.4,-0.3,-0.3,-0.3,-0.3,-0.3,
  -0.3,-0.4,-0.4,-0.4,-0.4,-0.5,-0.5,-0.6,-0.7,-0.7,-0.6,-0.5,
  -0.3,-0.1,0.1,0.1,0.1,0.2,0.2,0.3,0.3,0.4,0.4,0.5,
  0.5,0.5,0.6,0.7,0.7,0.8,0.8,0.7,0.6,0.1,-0.1,-0.3,
  -0.4,-0.5,-0.6,-0.6,-0.5,-0.4,-0.3,-0.2,-0.1,0.1,0.3,0.5,
  0.6,0.6,0.6,0.5,0.3,0.0,-0.6,-0.7,-0.8,-1.0,-1.2,-1.3,
  -1.3,-1.4,-1.4,-1.4,-1.0,-0.5,-0.3,0.0,0.1,0.2,0.3,0.35,
  0.4,0.4,0.2,-0.4,-0.5,-0.5,-0.6,-0.6,-0.4,-0.2,-0.1,0.0,
  0.0,0.1,0.2,0.4,0.6,0.7,0.8,0.8,0.7,0.5,0.4,0.2,
  0.0,-0.2,-0.4,-0.6,-0.7,-0.8,-0.9,-1.0,-1.0,-0.9,-0.7,-0.7,
  -0.7,-0.6,-0.6,-0.3,0.0,0.2,0.5,0.6,0.8,0.9,1.0,1.2,
  1.4,1.6,1.7,1.5,1.3,1.3,1.3,1.3,1.0,0.7,0.2,-0.2,
  -0.5,-0.6,-0.7,-0.8,-0.9,-0.9,-1.0,-1.0,-1.1,-1.1,-0.8,-0.5,
  -0.2,0.0,0.3,0.8,1.5,1.6,1.8,1.9,2.0,2.0,2.0,1.9,
  1.8,1.8,1.7,1.7,1.6,1.6,1.6,1.5,1.5,1.5,1.4,1.4,
  1.4,1.4,1.5,1.6,1.3,1.2,1.0,0.8,0.7,0.6,0.5,0.3,
  0.2,0.1,0.0,-0.2,-0.3,-0.5,-0.6,-0.7,-0.9,-0.9,-1.0,-1.0,
  -1.0,-1.0,-1.0,-1.1,-1.1,-1.0,-0.8,-0.7,-0.7,-0.6,-0.6,-0.6,
  -0.7,-0.7,-0.7,-0.8,-0.8,-0.8,-0.8,-0.8,-1.2,-1.5,-2.0,-2.6,
  -2.9,-3.0,-3.1,-2.8,-2.4,-2.0,-1.9,-1.7,-1.6,-1.4,-1.2,-1.0,
  -0.7,-0.3,0.0,0.1,0.1,0.2,0.2,0.2,0.1,0.1,0.0,-0.3,
  -0.6,-0.6,-0.6,-0.6,-0.6,-0.5,-0.5,-0.4,-0.4,-0.2,0.0,0.3,
  0.4,0.5,0.6,0.7,0.8,0.9,1.0,1.0,0.9,0.8,0.7,0.8,
  1.0,1.1,1.2,1.4,1.6,1.9,1.9,2.0,2.1,2.1,2.2,2.2,
  1.8,1.5,1.4,1.3,1.0,0.5,0.0,-0.3,-0.5,-0.6,-0.5,-0.3,
  -0.1,-0.1,0.0,0.2,0.3,0.5,0.6,0.7,0.7,0.7,0.6,0.5,
  0.4,0.3,0.2,0.1,0.0,-0.2,-0.3,-0.4,-0.5,-0.6,-0.7,-0.9,
  -1.0,-1.1,-1.2,-1.3,-1.3,-1.3,-1.0,-0.6,-0.3,-0.2,-0.2,-0.2,
  -0.2,-0.3,-0.3,-0.3,-0.3,-0.3,-0.1,0.1,0.3,0.4,0.4,0.4,
  0.4,0.4,0.4,0.4,0.3,0.0,-0.5,-0.8,-1.0,-1.1,-1.1,-1.1,
];

const PANELS = [
  { labels: SPI_LABELS, series: [SPI1, SPI3, SPI6, SPI12], caption: "(a) SPI \u2013 meteorological drought", legendX: [92, 180, 268, 355], legendDy: 24, top: 0 },
  { labels: SRI_LABELS, series: [SRI1, SRI3, SRI6, SRI12], caption: "(b) SRI \u2013 hydrological drought", legendX: [112, 220, 330, 440], legendDy: 21, top: 411 },
  { labels: SSWI_LABELS, series: [SSWI1, SSWI3, SSWI6, SSWI12], caption: "(c) SSWI \u2013 agricultural drought", legendX: [95, 210, 323, 437], legendDy: 20, top: 823 },
];

const decorPlugin = {
  id: "panelDecor",
  afterDatasetsDraw(chart: any, _args: any, opts: any) {
    const { ctx, chartArea: a, scales } = chart;
    const xs = scales.x;
    const ys = scales.y;
    const y0 = ys.getPixelForValue(0);
    ctx.save();
    // small tick marks on the zero line
    ctx.strokeStyle = "#000";
    ctx.lineWidth = 1;
    for (const t of TICK_YEARS) {
      const px = Math.round(xs.getPixelForValue(t)) + 0.5;
      ctx.beginPath();
      ctx.moveTo(px, y0);
      ctx.lineTo(px, y0 + 5);
      ctx.stroke();
    }
    // frame
    ctx.strokeStyle = "#222";
    ctx.lineWidth = 1.8;
    ctx.strokeRect(a.left, a.top, a.right - a.left, a.bottom - a.top);
    // inline legend
    const ly = a.top + opts.dy;
    ctx.font = `22px ${FONT}`;
    ctx.textBaseline = "middle";
    ctx.textAlign = "left";
    chart.data.datasets.forEach((ds: any, i: number) => {
      const lx = opts.xs[i];
      ctx.strokeStyle = ds.borderColor;
      ctx.lineWidth = 1.6;
      ctx.beginPath();
      ctx.moveTo(lx, ly);
      ctx.lineTo(lx + 28, ly);
      ctx.stroke();
      ctx.fillStyle = "#000";
      ctx.fillText(ds.label, lx + 30, ly + 1);
    });
    ctx.restore();
  },
};

function Panel(props: any) {
  const { labels, series, caption, legendX, legendDy, top } = props;
  const ref = useRef<HTMLCanvasElement>(null);
  useEffect(() => {
    if (!ref.current) return;
    const n = series[0].length;
    const chart = new Chart(ref.current, {
      type: "line",
      data: {
        datasets: series.map((s: number[], i: number) => ({
          label: labels[i],
          data: s.map((v, k) => ({ x: START_YEAR + k / 12, y: v })),
          borderColor: COLORS[i],
          backgroundColor: COLORS[i],
          borderWidth: 1.6,
          pointRadius: 0,
          tension: 0,
          fill: false,
          order: series.length - i,
        })),
      },
      options: {
        responsive: false,
        animation: false,
        devicePixelRatio: 1,
        layout: { padding: { top: 17, left: 0, right: 10, bottom: 71 } },
        plugins: {
          legend: { display: false },
          tooltip: { enabled: false },
          panelDecor: { xs: legendX, dy: legendDy },
        } as any,
        scales: {
          x: {
            type: "linear",
            min: START_YEAR,
            max: START_YEAR + (n - 1) / 12,
            afterBuildTicks: (s: any) => {
              s.ticks = TICK_YEARS.map((v) => ({ value: v }));
            },
            afterFit: (s: any) => {
              s.height = 45;
            },
            ticks: {
              autoSkip: false,
              maxRotation: 90,
              minRotation: 90,
              padding: 11,
              color: "#000",
              font: { family: FONT, size: 19 },
              callback: (v: any) => String(v),
            },
            grid: { display: false, drawTicks: false },
            border: { display: false },
          },
          y: {
            min: -4,
            max: 4,
            afterBuildTicks: (s: any) => {
              s.ticks = Y_TICKS.map((v) => ({ value: v }));
            },
            afterFit: (s: any) => {
              s.width = 79;
            },
            ticks: {
              padding: 11,
              color: "#000",
              font: { family: FONT, size: 20 },
              callback: (v: any) => String(v),
            },
            grid: {
              color: (c: any) => (c.tick && c.tick.value === 0 ? "#000" : "rgba(0,0,0,0)"),
              lineWidth: 1.5,
              tickLength: 8,
              tickColor: "#222",
              tickWidth: 1.5,
            },
            border: { display: false },
            title: {
              display: true,
              text: "Severity",
              color: "#000",
              font: { family: FONT, size: 21, weight: "bold" },
              padding: { top: 6, bottom: 0 },
            },
          },
        },
      },
      plugins: [decorPlugin],
    } as any);
    return () => chart.destroy();
  }, []);
  return (
    <div style={{ position: "absolute", left: 0, top, width: 830, height: 411 }}>
      <canvas ref={ref} width={830} height={411} style={{ width: 830, height: 411, display: "block" }} />
      <div
        style={{
          position: "absolute",
          left: 0,
          top: 340,
          width: 860,
          textAlign: "center",
          fontFamily: FONT,
          fontSize: 28,
          lineHeight: "28px",
          whiteSpace: "nowrap",
          color: "#000",
        }}
      >
        {caption}
      </div>
    </div>
  );
}

export default function App() {
  return (
    <div style={{ position: "absolute", left: 0, top: 0, width: 814, height: 1227, overflow: "hidden", background: "#fff" }}>
      {PANELS.map((p, i) => (
        <Panel key={i} {...p} />
      ))}
    </div>
  );
}
